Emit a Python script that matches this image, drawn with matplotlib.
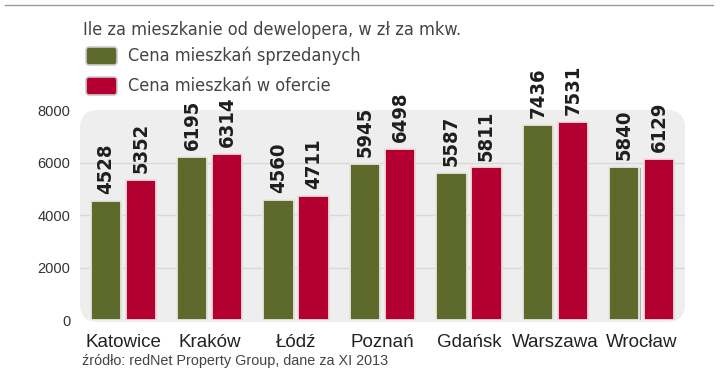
import matplotlib
matplotlib.use("Agg")
import matplotlib.pyplot as plt
import numpy as np
from matplotlib.patches import FancyBboxPatch
from matplotlib.lines import Line2D
import matplotlib.patheffects as pe

categories = ["Katowice", "Kraków", "Łódź", "Poznań", "Gdańsk", "Warszawa", "Wrocław"]
sold = [4528, 6195, 4560, 5945, 5587, 7436, 5840]
offer = [5352, 6314, 4711, 6498, 5811, 7531, 6129]
series_names = ["Cena mieszkań sprzedanych", "Cena mieszkań w ofercie"]
yticks = [0, 2000, 4000, 6000, 8000]
title = "Ile za mieszkanie od dewelopera, w zł za mkw."
source = "źródło: redNet Property Group, dane za XI 2013"

GREEN = "#5d6a2b"
RED = "#b40030"
TXT = "#333333"

W, H = 720, 381
fig = plt.figure(figsize=(W / 100, H / 100), dpi=100)
fig.patch.set_facecolor("white")

def fx(px):
    return px / W

def fy(py):
    return 1 - py / H

ax = fig.add_axes([fx(80), fy(320), fx(685) - fx(80), fy(110) - fy(320)])
ax.set_xlim(-0.5, len(categories) - 0.5)
ax.set_ylim(0, 8000)
ax.patch.set_visible(False)
for s in ax.spines.values():
    s.set_visible(False)

# rounded background panel
bg = FancyBboxPatch((0, -0.01), 1, 1.01, boxstyle="round,pad=0,rounding_size=0.03",
                    mutation_aspect=605 / 210, transform=ax.transAxes,
                    facecolor="#eeeeee", edgecolor="none", zorder=0, clip_on=False)
ax.add_patch(bg)

for v in [2000, 4000, 6000]:
    ax.axhline(v, color="#d9d9d9", lw=1.0, zorder=1)

x = np.arange(len(categories))
bw = 0.35
off = 0.202
shadow = [pe.SimplePatchShadow(offset=(0.8, -0.8), shadow_rgbFace="#888888", alpha=0.6), pe.Normal()]
b1 = ax.bar(x - off, sold, bw, color=GREEN, edgecolor="#e8e8e0", linewidth=1.3, zorder=3)
b2 = ax.bar(x + off, offer, bw, color=RED, edgecolor="#f2dede", linewidth=1.3, zorder=3)
for b in list(b1) + list(b2):
    b.set_path_effects(shadow)

for bars, vals in ((b1, sold), (b2, offer)):
    for b, v in zip(bars, vals):
        ax.annotate(f"{v}", (b.get_x() + b.get_width() / 2, v), xytext=(0, 5),
                    textcoords="offset points", rotation=90, ha="center", va="bottom",
                    fontsize=14.5, fontweight="bold", fontstretch="condensed",
                    color="#1e1e1e", family="DejaVu Sans", zorder=5)

ax.set_yticks(yticks)
ax.set_yticklabels([str(t) for t in yticks], fontsize=10.5, color=TXT, family="Liberation Sans")
ax.tick_params(axis="y", length=0, pad=7)
ax.set_xticks(x)
ax.set_xticklabels(categories, fontsize=13.5, color="#222222", family="Liberation Sans")
ax.tick_params(axis="x", length=0, pad=10)

# top rule
fig.add_artist(Line2D([fx(5), fx(713)], [fy(5), fy(5)], color="#999999", lw=1.0))

fig.text(fx(83), fy(30), title, fontsize=13, color="#444444", va="center", ha="left",
         family="DejaVu Sans", fontstretch="condensed")

for i, (name, col) in enumerate(zip(series_names, [GREEN, RED])):
    yc = 56 + i * 30
    sq = FancyBboxPatch((fx(86), fy(yc + 9)), fx(117) - fx(86), fy(yc - 9) - fy(yc + 9),
                        boxstyle="round,pad=0,rounding_size=0.004", mutation_aspect=W / H,
                        transform=fig.transFigure, facecolor=col, edgecolor="#cccccc", lw=1.2)
    fig.add_artist(sq)
    fig.text(fx(128), fy(yc), name, fontsize=13, color="#444444", va="center", ha="left",
             family="DejaVu Sans", fontstretch="condensed")

fig.text(fx(82), fy(361), source, fontsize=10.4, color="#444444", va="center", ha="left",
         family="Liberation Sans")

fig.savefig("out.png", dpi=100)
